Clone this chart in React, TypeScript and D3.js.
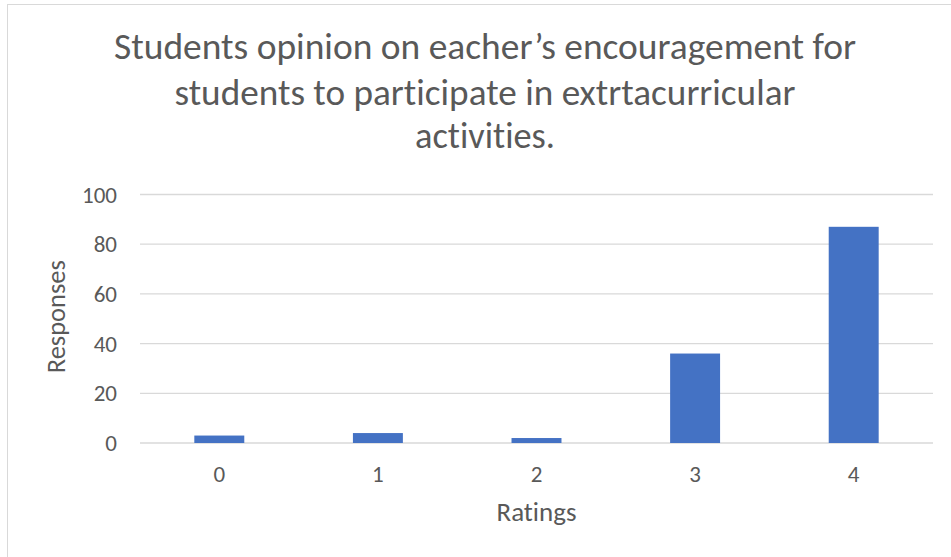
import React from "react";
import * as d3 from "d3";

const categories = ["0", "1", "2", "3", "4"];
const responses = [3, 4, 2, 36, 87];
const yTicks = [0, 20, 40, 60, 80, 100];
const titleLines = [
  "Students opinion on eacher\u2019s encouragement for",
  "students to participate in extrtacurricular",
  "activities.",
];
const xAxisTitle = "Ratings";
const yAxisTitle = "Responses";

const W = 951;
const H = 557;
const FONT = "Carlito, Calibri, 'Open Sans', sans-serif";
const TEXT = "#595959";

export default function App() {
  const plotLeft = 140;
  const plotRight = 933;
  const plotTop = 194.5;
  const plotBottom = 443;

  const x = d3
    .scaleBand<string>()
    .domain(categories)
    .range([plotLeft, plotRight])
    .paddingInner(0.685)
    .paddingOuter(0.3425);
  const y = d3.scaleLinear().domain([0, 100]).range([plotBottom, plotTop]);

  const titleY = [59, 105, 148];
  const titleWidths = [742, 621, 140];
  const noLig = { fontVariantLigatures: "none" as const };

  return (
    <div style={{ position: "absolute", left: 0, top: 0 }}>
      <svg width={W} height={H} style={{ display: "block" }}>
        <rect x={0} y={0} width={W} height={H} fill="#ffffff" />
        <rect x={7.5} y={4.5} width={W + 20} height={H + 20} fill="#ffffff" stroke="#d9d9d9" strokeWidth={1} />
        {titleLines.map((t, i) => (
          <text
            key={i}
            x={485}
            y={titleY[i]}
            textAnchor="middle"
            fontFamily={FONT}
            fontSize={36}
            fill={TEXT}
            style={noLig}
            textLength={titleWidths[i]}
            lengthAdjust="spacingAndGlyphs"
          >
            {t}
          </text>
        ))}
        {yTicks.map((t) => (
          <g key={t}>
            <line x1={plotLeft} x2={plotRight} y1={y(t)} y2={y(t)} stroke="#d9d9d9" strokeWidth={1.3} />
            <text
              x={117}
              y={y(t)}
              dy="0.35em"
              textAnchor="end"
              fontFamily={FONT}
              fontSize={23}
              fill={TEXT}
            >
              {t}
            </text>
          </g>
        ))}
        {categories.map((c, i) => (
          <g key={c}>
            <rect
              x={x(c)}
              y={y(responses[i])}
              width={x.bandwidth()}
              height={y(0) - y(responses[i])}
              fill="#4472c4"
            />
            <text
              x={(x(c) as number) + x.bandwidth() / 2}
              y={481.5}
              textAnchor="middle"
              fontFamily={FONT}
              fontSize={23}
              fill={TEXT}
            >
              {c}
            </text>
          </g>
        ))}
        <text
          x={(plotLeft + plotRight) / 2}
          y={521}
          textAnchor="middle"
          fontFamily={FONT}
          fontSize={26}
          fill={TEXT}
          style={noLig}
          textLength={80}
          lengthAdjust="spacingAndGlyphs"
        >
          {xAxisTitle}
        </text>
        <text
          transform={`translate(65, ${(plotTop + plotBottom) / 2 - 2}) rotate(-90)`}
          textAnchor="middle"
          fontFamily={FONT}
          fontSize={26}
          fill={TEXT}
          style={noLig}
          textLength={113}
          lengthAdjust="spacingAndGlyphs"
        >
          {yAxisTitle}
        </text>
      </svg>
    </div>
  );
}
